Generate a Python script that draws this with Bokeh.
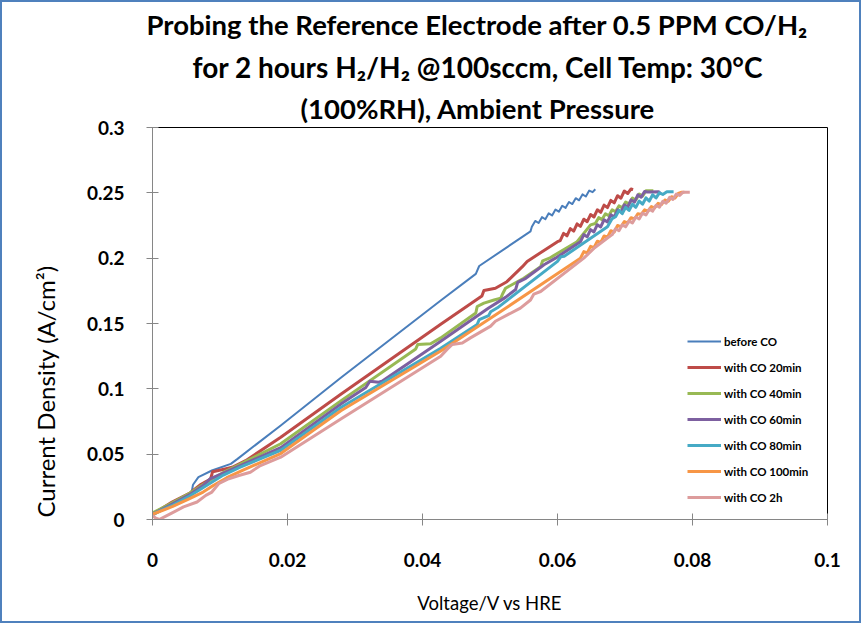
import math
from bokeh.plotting import figure
from bokeh.models import Range1d, FixedTicker, Legend, LegendItem, Title
from bokeh.embed import file_html
from bokeh.resources import INLINE

# ---------------- data ----------------
x_ticks = [0, 0.02, 0.04, 0.06, 0.08, 0.1]
x_tick_labels = ["0", "0.02", "0.04", "0.06", "0.08", "0.1"]
y_ticks = [0, 0.05, 0.1, 0.15, 0.2, 0.25, 0.3]
y_tick_labels = ["0", "0.05", "0.1", "0.15", "0.2", "0.25", "0.3"]

series_names = ["before CO", "with CO 20min", "with CO 40min", "with CO 60min",
                "with CO 80min", "with CO 100min", "with CO 2h"]
series_colors = ["#4a7ebb", "#be4b48", "#98b954", "#7d60a0", "#46aac5", "#f79646", "#dd9c9c"]

v_before = [0, 0.003, 0.0058, 0.0060, 0.0068, 0.0088, 0.0116, 0.0126, 0.0190, 0.0279, 0.0427,
            0.0479, 0.0484, 0.0560, 0.0562,
            0.0567, 0.0572, 0.0577, 0.0582, 0.0587, 0.0592, 0.0597, 0.0602, 0.0607, 0.0612,
            0.0617, 0.0622, 0.0627, 0.0632, 0.0637, 0.0642, 0.0647, 0.0652, 0.0656]
j_before = [0.003, 0.012, 0.021, 0.0266, 0.0324, 0.0375, 0.0426, 0.0464, 0.072, 0.1085, 0.1676,
            0.188, 0.194, 0.2205, 0.2240,
            0.2285, 0.2269, 0.2314, 0.2298, 0.2343, 0.2327, 0.2372, 0.2356, 0.2401, 0.2385,
            0.2430, 0.2414, 0.2459, 0.2443, 0.2488, 0.2472, 0.2517, 0.2505, 0.2527]

v_co20 = [0, 0.0029, 0.0056, 0.0072, 0.0086, 0.0089, 0.0106, 0.0118, 0.0138, 0.0190, 0.0279,
          0.0427, 0.0488, 0.0491, 0.0508, 0.0525, 0.0548, 0.0555, 0.0600, 0.0604,
          0.0609, 0.0614, 0.0619, 0.0624, 0.0629, 0.0634, 0.0639, 0.0644, 0.0649, 0.0654,
          0.0659, 0.0664, 0.0669, 0.0674, 0.0679, 0.0684, 0.0689, 0.0694, 0.0699, 0.0704,
          0.0709, 0.0712]
j_co20 = [0.004, 0.0134, 0.0205, 0.027, 0.031, 0.0365, 0.0385, 0.040, 0.045, 0.063, 0.0959,
          0.1494, 0.1710, 0.1753, 0.1770, 0.1820, 0.1935, 0.1975, 0.2126, 0.2135,
          0.2190, 0.2171, 0.2226, 0.2207, 0.2262, 0.2243, 0.2298, 0.2279, 0.2334, 0.2315,
          0.2370, 0.2351, 0.2406, 0.2387, 0.2442, 0.2423, 0.2478, 0.2459, 0.2514, 0.2495,
          0.2530, 0.2525]

v_co40 = [0, 0.003, 0.0055, 0.0085, 0.0105, 0.0125, 0.0190, 0.0279, 0.0390, 0.0393, 0.0412,
          0.0427, 0.0479, 0.0481, 0.0491, 0.0506, 0.0516, 0.0519, 0.0523, 0.0550, 0.0575,
          0.0578, 0.0588, 0.0629, 0.0649, 0.0656,
          0.0661, 0.0666, 0.0671, 0.0676, 0.0681, 0.0686, 0.0691, 0.0696, 0.0701, 0.0706,
          0.0711, 0.0716, 0.0721, 0.0726, 0.0731, 0.0742]
j_co40 = [0.005, 0.013, 0.020, 0.030, 0.036, 0.041, 0.058, 0.0908, 0.1305, 0.1340, 0.1345,
          0.1390, 0.1580, 0.1630, 0.1656, 0.1680, 0.1694, 0.1730, 0.1770, 0.1846, 0.1935,
          0.1980, 0.2000, 0.2126, 0.2255, 0.2265,
          0.2310, 0.2295, 0.2340, 0.2325, 0.2370, 0.2355, 0.2400, 0.2385, 0.2430, 0.2415,
          0.2460, 0.2445, 0.2490, 0.2475, 0.2515, 0.2515]

v_co60 = [0, 0.003, 0.0055, 0.0075, 0.0085, 0.0105, 0.0125, 0.0190, 0.0279, 0.0316, 0.0322,
          0.0335, 0.0340, 0.0427, 0.0498, 0.0523, 0.0538, 0.0541, 0.0553, 0.0580, 0.0597, 0.0634,
          0.0639, 0.0644, 0.0649, 0.0654, 0.0659, 0.0664, 0.0669, 0.0674, 0.0679, 0.0684,
          0.0689, 0.0694, 0.0699, 0.0704, 0.0709, 0.0714, 0.0719, 0.0724, 0.0729, 0.0733,
          0.0750, 0.0753]
j_co60 = [0.004, 0.012, 0.019, 0.026, 0.031, 0.0355, 0.040, 0.055, 0.0883, 0.1010, 0.1058,
          0.1050, 0.1058, 0.1365, 0.1618, 0.1700, 0.1760, 0.1815, 0.1846, 0.1950, 0.2000, 0.2125,
          0.2180, 0.2163, 0.2218, 0.2201, 0.2256, 0.2239, 0.2294, 0.2277, 0.2332, 0.2315,
          0.2370, 0.2353, 0.2408, 0.2391, 0.2446, 0.2429, 0.2484, 0.2467, 0.2510, 0.2506,
          0.2508, 0.2490]

v_co80 = [0, 0.003, 0.0055, 0.0080, 0.0105, 0.0130, 0.0190, 0.0279, 0.0427, 0.0481, 0.0484,
          0.0498, 0.0501, 0.0511, 0.0600, 0.0605, 0.0610, 0.0674, 0.0681, 0.0686,
          0.0691, 0.0696, 0.0701, 0.0706, 0.0711, 0.0716, 0.0721, 0.0726, 0.0731, 0.0736,
          0.0741, 0.0746, 0.0751, 0.0756, 0.0762, 0.0772]
j_co80 = [0.004, 0.011, 0.018, 0.026, 0.034, 0.040, 0.053, 0.0857, 0.1310, 0.1492, 0.1530,
          0.1560, 0.1590, 0.1620, 0.1975, 0.2011, 0.2015, 0.2240, 0.2303, 0.2317,
          0.2365, 0.2341, 0.2389, 0.2365, 0.2413, 0.2389, 0.2437, 0.2413, 0.2461, 0.2437,
          0.2485, 0.2461, 0.2500, 0.2488, 0.2508, 0.2508]

v_co100 = [0, 0.003, 0.0055, 0.0075, 0.0090, 0.0110, 0.0135, 0.0190, 0.0279, 0.0427, 0.0527,
           0.0634, 0.0639, 0.0644, 0.0649, 0.0654, 0.0659, 0.0664, 0.0669, 0.0674, 0.0679,
           0.0684, 0.0689, 0.0694, 0.0699, 0.0704, 0.0709, 0.0714, 0.0719, 0.0724, 0.0729,
           0.0734, 0.0739, 0.0744, 0.0749, 0.0754, 0.0759, 0.0764, 0.0769, 0.0774, 0.0779,
           0.0784, 0.0788]
j_co100 = [0.004, 0.010, 0.016, 0.021, 0.026, 0.032, 0.038, 0.0505, 0.0832, 0.1290, 0.1630,
           0.2000, 0.2050, 0.2040, 0.2090, 0.2080, 0.2130, 0.2120, 0.2170, 0.2160, 0.2210,
           0.2200, 0.2250, 0.2240, 0.2280, 0.2270, 0.2310, 0.2300, 0.2340, 0.2335, 0.2370,
           0.2360, 0.2395, 0.2385, 0.2420, 0.2410, 0.2445, 0.2435, 0.2470, 0.2460, 0.2495,
           0.2505, 0.2505]

v_co2h = [0, 0.0005, 0.0010, 0.0027, 0.0046, 0.0066, 0.0079, 0.0088, 0.0098, 0.0113, 0.0128,
          0.0145, 0.0160, 0.0190, 0.0279, 0.0427, 0.0436, 0.0444, 0.0459, 0.0471, 0.0501,
          0.0508, 0.0545, 0.0560, 0.0565, 0.0575, 0.0639, 0.0655, 0.0674, 0.0681,
          0.0686, 0.0691, 0.0696, 0.0701, 0.0706, 0.0711, 0.0716, 0.0721, 0.0726, 0.0731,
          0.0736, 0.0741, 0.0746, 0.0751, 0.0756, 0.0761, 0.0766, 0.0771, 0.0776, 0.0781,
          0.0786, 0.0796]
j_co2h = [0.003, 0.0010, 0.0000, 0.0045, 0.0096, 0.0134, 0.0185, 0.0210, 0.0274, 0.0312, 0.0337,
          0.0362, 0.0413, 0.0477, 0.0769, 0.1250, 0.1300, 0.1340, 0.1350, 0.1390, 0.1480,
          0.1517, 0.1618, 0.1680, 0.1725, 0.1745, 0.2000, 0.2080, 0.2154, 0.2180,
          0.2225, 0.2210, 0.2255, 0.2240, 0.2285, 0.2270, 0.2315, 0.2300, 0.2345, 0.2330,
          0.2375, 0.2360, 0.2405, 0.2390, 0.2435, 0.2420, 0.2465, 0.2450, 0.2490, 0.2480,
          0.2505, 0.2505]

series_v = [v_before, v_co20, v_co40, v_co60, v_co80, v_co100, v_co2h]
series_j = [j_before, j_co20, j_co40, j_co60, j_co80, j_co100, j_co2h]
series_widths = [2, 3, 3, 3, 3, 3, 3]

title_lines = ["Probing the Reference Electrode after 0.5 PPM CO/H\u2082",
               "for 2 hours  H\u2082/H\u2082 @100sccm, Cell Temp: 30\u00b0C",
               "(100%RH), Ambient Pressure"]
x_title = "Voltage/V vs HRE"
y_title = "Current Density  (A/cm\u00b2)"

# ---------------- figure ----------------
FONT = "Lato"
p = figure(width=861, height=623, output_backend="svg", toolbar_location=None, title=None,
           x_range=Range1d(0, 0.1), y_range=Range1d(0, 0.3),
           min_border_left=150, min_border_right=36, min_border_top=123, min_border_bottom=106,
           styles={"border": "2px solid #4f81bd"})
p.background_fill_color = "white"
p.border_fill_color = "white"
p.outline_line_color = "black"
p.outline_line_width = 1
p.grid.visible = False

for ax, ticks, labels in ((p.xaxis[0], x_ticks, x_tick_labels), (p.yaxis[0], y_ticks, y_tick_labels)):
    ax.ticker = FixedTicker(ticks=ticks)
    ax.major_label_overrides = {t: l for t, l in zip(ticks, labels)}
    ax.minor_tick_line_color = None
    ax.major_tick_in = 6
    ax.major_tick_out = 6
    ax.axis_line_color = "#868686"
    ax.major_tick_line_color = "#868686"
    ax.major_label_text_font = FONT
    ax.major_label_text_font_style = "bold"
    ax.major_label_text_font_size = "19px"
    ax.major_label_text_color = "black"
p.xaxis.major_label_standoff = 27
p.yaxis.major_label_standoff = 22

p.xaxis.axis_label = x_title
p.xaxis.axis_label_standoff = 22
p.xaxis.axis_label_text_font = FONT
p.xaxis.axis_label_text_font_style = "normal"
p.xaxis.axis_label_text_font_size = "18.5px"
p.xaxis.axis_label_text_color = "black"

renderers = []
for v, j, c, w in zip(series_v, series_j, series_colors, series_widths):
    r = p.line(v, j, line_color=c, line_width=w, line_join="round")
    renderers.append(r)

legend = Legend(items=[LegendItem(label=n, renderers=[r]) for n, r in zip(series_names, renderers)],
                location=(535, 12), glyph_width=34, glyph_height=20, label_height=20,
                spacing=6, padding=0, margin=0, label_standoff=3,
                border_line_color=None, background_fill_alpha=0,
                label_text_font=FONT, label_text_font_style="bold",
                label_text_font_size="11.5px", label_text_color="black")
p.add_layout(legend)

# title lines: the first added sits nearest the plot frame
title_sizes = ["27.5px", "28px", "27.5px"]
title_offsets = [-6, 40, 148]
title_standoffs = [7, 6, 6]
for t, sz, off, so in reversed(list(zip(title_lines, title_sizes, title_offsets, title_standoffs))):
    p.add_layout(Title(text=t, align="left", offset=off, standoff=so,
                       text_font=FONT, text_font_style="bold", text_font_size=sz,
                       text_color="black"), "above")

p.add_layout(Title(text=y_title, align="left", offset=2, standoff=47,
                   text_font=FONT, text_font_style="normal", text_font_size="24px",
                   text_color="black"), "left")

open("out.html", "w").write(file_html(p, INLINE))
